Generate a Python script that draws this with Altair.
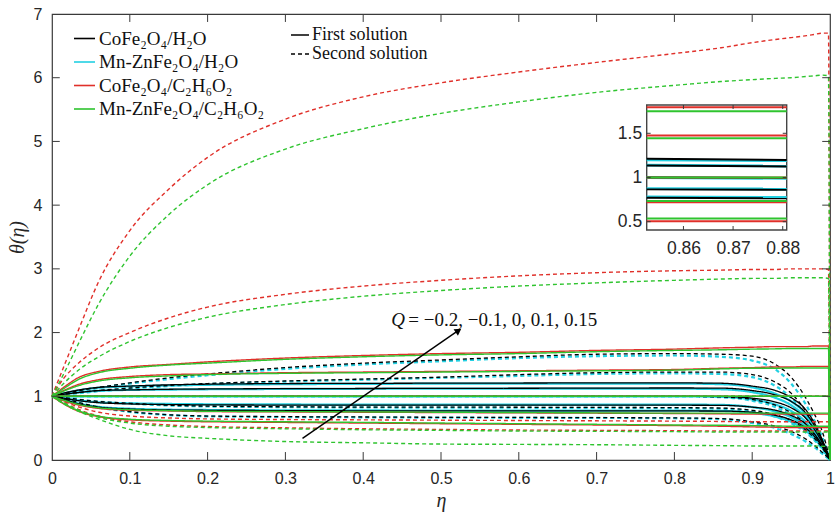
import altair as alt
import pandas as pd

# ---------------- data ----------------
ETA = [0, 0.015, 0.035, 0.06, 0.1, 0.15, 0.2, 0.3, 0.4, 0.5, 0.6, 0.7, 0.8, 0.86,
       0.9, 0.93, 0.95, 0.97, 0.98, 0.99, 0.998, 1.0]
Q_VALUES = [-0.2, -0.1, 0, 0.1, 0.15]
FLUIDS = ["CoFe₂O₄/H₂O", "Mn-ZnFe₂O₄/H₂O", "CoFe₂O₄/C₂H₆O₂", "Mn-ZnFe₂O₄/C₂H₆O₂"]
SOLUTIONS = ["First solution", "Second solution"]

# CoFe2O4/H2O, first solution (rows: Q = -0.2, -0.1, 0, 0.1, 0.15)
BLACK_FIRST = [
    [1, 0.95, 0.88, 0.83, 0.8, 0.785, 0.78, 0.775, 0.772, 0.77, 0.77, 0.77, 0.77, 0.768, 0.75, 0.7, 0.63, 0.49, 0.37, 0.21, 0.05, 0],
    [1, 0.97, 0.93, 0.9, 0.88, 0.87, 0.865, 0.862, 0.86, 0.86, 0.86, 0.86, 0.86, 0.858, 0.83, 0.78, 0.7, 0.55, 0.41, 0.23, 0.05, 0],
    [1, 1, 1, 1, 1, 1, 1, 1, 1, 1, 1, 1, 1, 0.998, 0.97, 0.91, 0.82, 0.64, 0.48, 0.27, 0.06, 0],
    [1, 1.03, 1.06, 1.09, 1.1, 1.11, 1.115, 1.12, 1.122, 1.124, 1.126, 1.128, 1.13, 1.128, 1.09, 1.02, 0.92, 0.72, 0.54, 0.3, 0.07, 0],
    [1, 1.05, 1.1, 1.14, 1.16, 1.18, 1.19, 1.2, 1.203, 1.206, 1.208, 1.21, 1.21, 1.205, 1.16, 1.09, 0.98, 0.77, 0.58, 0.32, 0.07, 0],
]
# Mn-ZnFe2O4/H2O, first solution
CYAN_FIRST = [
    [1, 0.95, 0.885, 0.835, 0.805, 0.79, 0.785, 0.78, 0.778, 0.776, 0.775, 0.775, 0.775, 0.77, 0.74, 0.68, 0.6, 0.45, 0.33, 0.19, 0.04, 0],
    [1, 0.97, 0.935, 0.905, 0.89, 0.88, 0.875, 0.872, 0.87, 0.87, 0.87, 0.87, 0.87, 0.865, 0.83, 0.76, 0.67, 0.51, 0.38, 0.21, 0.04, 0],
    [1, 1, 1, 1, 1, 1, 1, 1, 1, 1, 1, 1, 1, 0.99, 0.95, 0.87, 0.77, 0.58, 0.43, 0.24, 0.05, 0],
    [1, 1.03, 1.06, 1.085, 1.1, 1.105, 1.11, 1.115, 1.118, 1.12, 1.12, 1.12, 1.12, 1.11, 1.065, 0.975, 0.86, 0.65, 0.48, 0.27, 0.06, 0],
    [1, 1.045, 1.095, 1.135, 1.155, 1.17, 1.18, 1.19, 1.195, 1.198, 1.2, 1.2, 1.2, 1.19, 1.14, 1.04, 0.92, 0.7, 0.51, 0.29, 0.06, 0],
]
# CoFe2O4/C2H6O2, first solution
RED_FIRST = [
    [1, 0.88, 0.76, 0.68, 0.63, 0.61, 0.6, 0.59, 0.58, 0.57, 0.56, 0.55, 0.54, 0.53, 0.52, 0.515, 0.51, 0.51, 0.51, 0.51, 0.51, 0],
    [1, 0.93, 0.86, 0.81, 0.78, 0.77, 0.76, 0.755, 0.75, 0.745, 0.74, 0.735, 0.73, 0.725, 0.72, 0.72, 0.72, 0.72, 0.72, 0.72, 0.72, 0],
    [1, 1, 1, 1, 1, 1, 1, 1, 1, 1, 1, 1, 1, 1, 1, 1, 1, 1, 1, 1, 1, 0],
    [1, 1.09, 1.19, 1.26, 1.31, 1.34, 1.35, 1.37, 1.38, 1.39, 1.4, 1.41, 1.42, 1.44, 1.45, 1.46, 1.46, 1.47, 1.47, 1.47, 1.47, 0],
    [1, 1.14, 1.3, 1.39, 1.46, 1.5, 1.54, 1.6, 1.64, 1.67, 1.69, 1.72, 1.74, 1.76, 1.77, 1.78, 1.78, 1.78, 1.79, 1.79, 1.79, 0],
]
# Mn-ZnFe2O4/C2H6O2, first solution
GREEN_FIRST = [
    [1, 0.89, 0.77, 0.69, 0.64, 0.62, 0.61, 0.6, 0.59, 0.58, 0.57, 0.56, 0.55, 0.545, 0.54, 0.535, 0.53, 0.53, 0.53, 0.53, 0.53, 0],
    [1, 0.94, 0.87, 0.82, 0.79, 0.775, 0.765, 0.76, 0.755, 0.75, 0.745, 0.74, 0.735, 0.735, 0.735, 0.735, 0.735, 0.735, 0.735, 0.735, 0.735, 0],
    [1, 1, 1, 1, 1, 1, 1, 1, 1, 1, 1, 1, 1, 1, 1, 1, 1, 1, 1, 1, 1, 0],
    [1, 1.08, 1.17, 1.24, 1.29, 1.32, 1.34, 1.36, 1.37, 1.38, 1.39, 1.4, 1.41, 1.43, 1.44, 1.44, 1.445, 1.445, 1.445, 1.445, 1.445, 0],
    [1, 1.12, 1.27, 1.37, 1.44, 1.49, 1.52, 1.58, 1.62, 1.65, 1.67, 1.7, 1.72, 1.73, 1.74, 1.745, 1.75, 1.75, 1.75, 1.75, 1.75, 0],
]
# second solutions
BLACK_SECOND = [
    [1, 0.96, 0.9, 0.83, 0.76, 0.71, 0.69, 0.68, 0.675, 0.67, 0.668, 0.665, 0.66, 0.65, 0.6, 0.53, 0.45, 0.32, 0.23, 0.12, 0.03, 0],
    [1, 0.98, 0.95, 0.92, 0.89, 0.86, 0.845, 0.835, 0.83, 0.83, 0.828, 0.825, 0.822, 0.815, 0.78, 0.71, 0.62, 0.46, 0.34, 0.19, 0.04, 0],
    [1, 1, 1, 1, 1, 1, 1, 1, 1, 1, 1, 1, 1, 0.99, 0.95, 0.86, 0.74, 0.55, 0.4, 0.22, 0.05, 0],
    [1, 1.03, 1.06, 1.09, 1.13, 1.17, 1.2, 1.24, 1.27, 1.3, 1.34, 1.37, 1.38, 1.38, 1.34, 1.22, 1.05, 0.75, 0.55, 0.3, 0.06, 0],
    [1, 1.04, 1.09, 1.14, 1.21, 1.29, 1.35, 1.45, 1.52, 1.57, 1.62, 1.66, 1.67, 1.66, 1.63, 1.5, 1.3, 0.95, 0.72, 0.45, 0.1, 0],
]
CYAN_SECOND = [
    [1, 0.96, 0.895, 0.825, 0.755, 0.705, 0.685, 0.675, 0.67, 0.665, 0.662, 0.66, 0.655, 0.64, 0.58, 0.5, 0.41, 0.28, 0.2, 0.1, 0.02, 0],
    [1, 0.98, 0.945, 0.915, 0.885, 0.855, 0.84, 0.83, 0.825, 0.822, 0.82, 0.818, 0.815, 0.805, 0.76, 0.68, 0.58, 0.42, 0.31, 0.17, 0.03, 0],
    [1, 1, 1, 1, 1, 1, 1, 1, 1, 1, 1, 1, 1, 0.985, 0.93, 0.83, 0.7, 0.5, 0.36, 0.19, 0.04, 0],
    [1, 1.03, 1.05, 1.08, 1.12, 1.16, 1.19, 1.23, 1.26, 1.29, 1.32, 1.35, 1.36, 1.35, 1.3, 1.16, 0.98, 0.68, 0.49, 0.27, 0.05, 0],
    [1, 1.04, 1.08, 1.13, 1.2, 1.27, 1.33, 1.43, 1.5, 1.55, 1.6, 1.63, 1.64, 1.62, 1.56, 1.42, 1.2, 0.85, 0.62, 0.36, 0.08, 0],
]
RED_SECOND = [
    [1, 0.9, 0.79, 0.69, 0.6, 0.55, 0.525, 0.505, 0.49, 0.48, 0.47, 0.465, 0.46, 0.455, 0.455, 0.455, 0.455, 0.455, 0.455, 0.455, 0.455, 0],
    [1, 0.92, 0.83, 0.75, 0.69, 0.66, 0.645, 0.635, 0.63, 0.625, 0.62, 0.615, 0.61, 0.605, 0.6, 0.6, 0.6, 0.6, 0.6, 0.6, 0.6, 0],
    [1, 1, 1, 1, 1, 1, 1, 1, 1, 1, 1, 1, 1, 1, 1, 1, 1, 1, 1, 1, 1, 0],
    [1, 1.28, 1.53, 1.76, 2.0, 2.23, 2.4, 2.6, 2.73, 2.82, 2.89, 2.94, 2.97, 2.98, 2.99, 2.99, 3.0, 3.0, 3.0, 3.0, 2.99, 0],
    [1, 1.46, 2.07, 2.8, 3.6, 4.25, 4.75, 5.35, 5.7, 5.92, 6.09, 6.24, 6.38, 6.47, 6.55, 6.6, 6.63, 6.66, 6.68, 6.7, 6.7, 0],
]
GREEN_SECOND = [
    [1, 0.88, 0.76, 0.64, 0.48, 0.38, 0.34, 0.29, 0.27, 0.25, 0.245, 0.24, 0.23, 0.225, 0.22, 0.22, 0.22, 0.22, 0.22, 0.215, 0.21, 0],
    [1, 0.9, 0.78, 0.67, 0.58, 0.53, 0.51, 0.49, 0.475, 0.465, 0.455, 0.45, 0.445, 0.44, 0.44, 0.44, 0.44, 0.44, 0.44, 0.44, 0.44, 0],
    [1, 1, 1, 1, 1, 1, 1, 1, 1, 1, 1, 1, 1, 1, 1, 1, 1, 1, 1, 1, 1, 0],
    [1, 1.2, 1.42, 1.62, 1.86, 2.08, 2.24, 2.44, 2.57, 2.66, 2.73, 2.78, 2.82, 2.84, 2.85, 2.85, 2.86, 2.86, 2.86, 2.86, 2.85, 0],
    [1, 1.35, 1.85, 2.45, 3.2, 3.85, 4.32, 4.88, 5.2, 5.44, 5.62, 5.77, 5.88, 5.94, 5.97, 5.99, 6.0, 6.02, 6.03, 6.04, 6.03, 0],
]

# inset (zoom of the first solutions)
INSET_ETA = [0.8526, 0.8808]
INSET_BLACK = [[0.77, 0.765], [0.865, 0.86], [1.0, 0.995], [1.135, 1.125], [1.212, 1.198]]
INSET_CYAN = [[0.78, 0.775], [0.875, 0.87], [1.0, 0.99], [1.14, 1.13], [1.2, 1.19]]
INSET_RED = [[0.505, 0.505], [0.72, 0.72], [1.0, 1.0], [1.475, 1.475], [1.795, 1.795]]
INSET_GREEN = [[0.535, 0.535], [0.735, 0.735], [1.0, 1.0], [1.445, 1.445], [1.75, 1.75]]

XTICKS = [0, 0.1, 0.2, 0.3, 0.4, 0.5, 0.6, 0.7, 0.8, 0.9, 1]
YTICKS = [0, 1, 2, 3, 4, 5, 6, 7]
INSET_XTICKS = [0.86, 0.87, 0.88]
INSET_YTICKS = [0.5, 1, 1.5]

# ---------------- tables ----------------
rows = []
tables = [
    (0, 0, BLACK_FIRST), (1, 0, CYAN_FIRST), (2, 0, RED_FIRST), (3, 0, GREEN_FIRST),
    (0, 1, BLACK_SECOND), (1, 1, CYAN_SECOND), (2, 1, RED_SECOND), (3, 1, GREEN_SECOND),
]
for fi, si, table in tables:
    for q, vals in zip(Q_VALUES, table):
        for e, t in zip(ETA, vals):
            rows.append({"eta": e, "theta": t, "fi": fi, "fluid": FLUIDS[fi],
                         "sol": SOLUTIONS[si], "key": f"{fi}-{si}-{q}"})
df = pd.DataFrame(rows)

irows = []
for fi, table in enumerate([INSET_BLACK, INSET_CYAN, INSET_RED, INSET_GREEN]):
    for q, vals in zip(Q_VALUES, table):
        for e, t in zip(INSET_ETA, vals):
            irows.append({"eta": e, "theta": t, "fi": fi, "key": f"{fi}-{q}"})
idf = pd.DataFrame(irows)

COLORS = ["#000000", "#22d0e2", "#e0302a", "#2fc42f"]
WIDTHS = [1.3, 2.2, 1.4, 1.4]
DRAW_ORDER = [1, 0, 2, 3]

# ---------------- scales / axes ----------------
xs = alt.Scale(domain=[0, 1], nice=False, zero=False)
ys = alt.Scale(domain=[0, 7], nice=False, zero=False)
color_scale = alt.Scale(domain=FLUIDS, range=COLORS)
dash_scale = alt.Scale(domain=SOLUTIONS, range=[[1, 0], [4, 3]])

LABEL_FONT = "Liberation Sans"
SERIF = "Liberation Serif"
AX_COLOR = "#262626"

x_axis = alt.Axis(values=XTICKS, format="~g", title="η", orient="bottom", grid=False,
                  domain=False, ticks=False, labels=True,
                  labelFont=LABEL_FONT, labelFontSize=16, labelColor=AX_COLOR, labelPadding=10,
                  labelFlush=False, titleFont=SERIF, titleFontStyle="italic", titleFontSize=20,
                  titleFontWeight="normal", titleColor=AX_COLOR, titlePadding=4)
y_axis = alt.Axis(values=YTICKS, format="d", title="θ(η)", orient="left", grid=False,
                  domain=False, ticks=False, labels=True,
                  labelFont=LABEL_FONT, labelFontSize=16, labelColor=AX_COLOR, labelPadding=10,
                  labelFlush=False, titleFont=SERIF, titleFontStyle="italic", titleFontSize=20,
                  titleFontWeight="normal", titleColor=AX_COLOR, titlePadding=6)

color_legend = alt.Legend(title=None, orient="none", legendX=21, legendY=13, symbolType="stroke",
                          symbolSize=441, symbolStrokeWidth=1.6, labelFont=SERIF, labelFontSize=19,
                          labelColor="#111111", rowPadding=1.5, labelOffset=3, padding=0,
                          labelLimit=400)
dash_legend = alt.Legend(title=None, orient="none", legendX=238, legendY=11, symbolType="stroke",
                         symbolSize=324, symbolStrokeWidth=1.4, symbolStrokeColor="#000000",
                         labelFont=SERIF, labelFontSize=18, labelColor="#111111", rowPadding=0,
                         labelOffset=2, padding=0, labelLimit=400)

# ---------------- main curves ----------------
def fluid_layer(fi, with_axes):
    return alt.Chart(df).mark_line(strokeWidth=WIDTHS[fi], interpolate="monotone").encode(
        x=alt.X("eta:Q", scale=xs, axis=x_axis if with_axes else None),
        y=alt.Y("theta:Q", scale=ys, axis=y_axis if with_axes else None),
        color=alt.Color("fluid:N", scale=color_scale, legend=color_legend),
        strokeDash=alt.StrokeDash("sol:N", scale=dash_scale, legend=dash_legend),
        detail="key:N",
    ).transform_filter(alt.datum.fi == fi)

curve_layers = [fluid_layer(fi, i == 0) for i, fi in enumerate(DRAW_ORDER)]

# inward ticks on all four sides
TICK_COLOR = "#3a3a3a"
xt = pd.DataFrame({"t": XTICKS[1:-1]})
yt = pd.DataFrame({"t": YTICKS[1:-1]})
tick_bottom = alt.Chart(xt).mark_rule(color=TICK_COLOR, strokeWidth=1).encode(
    x=alt.X("t:Q", scale=xs, axis=None), y=alt.Y(datum=0, scale=ys, axis=None), y2=alt.Y2(datum=0.125))
tick_top = alt.Chart(xt).mark_rule(color=TICK_COLOR, strokeWidth=1).encode(
    x=alt.X("t:Q", scale=xs, axis=None), y=alt.Y(datum=7, scale=ys, axis=None), y2=alt.Y2(datum=6.875))
tick_left = alt.Chart(yt).mark_rule(color=TICK_COLOR, strokeWidth=1).encode(
    y=alt.Y("t:Q", scale=ys, axis=None), x=alt.X(datum=0, scale=xs, axis=None), x2=alt.X2(datum=0.01))
tick_right = alt.Chart(yt).mark_rule(color=TICK_COLOR, strokeWidth=1).encode(
    y=alt.Y("t:Q", scale=ys, axis=None), x=alt.X(datum=1, scale=xs, axis=None), x2=alt.X2(datum=0.99))

one = pd.DataFrame({"a": [0]})
arrow = alt.Chart(one).mark_rule(color="#000000", strokeWidth=1.4).encode(
    x=alt.X(datum=0.322, scale=xs, axis=None), y=alt.Y(datum=0.34, scale=ys, axis=None),
    x2=alt.X2(datum=0.522), y2=alt.Y2(datum=2.03))
arrow_head = alt.Chart(one).mark_point(shape="triangle-up", filled=True, size=60, angle=55.5,
                                       color="#000000", opacity=1).encode(
    x=alt.X(datum=0.5225, scale=xs, axis=None), y=alt.Y(datum=2.03, scale=ys, axis=None))
q_text = alt.Chart(one).mark_text(text="Q", font=SERIF, fontStyle="italic", fontSize=19,
                                  align="center", baseline="middle", color="#111111").encode(
    x=alt.X(datum=0.445, scale=xs, axis=None), y=alt.Y(datum=2.2, scale=ys, axis=None))
q_vals = alt.Chart(one).mark_text(text="= −0.2, −0.1, 0, 0.1, 0.15", font=SERIF, fontSize=19,
                                  align="left", baseline="middle", color="#111111").encode(
    x=alt.X(datum=0.458, scale=xs, axis=None), y=alt.Y(datum=2.2, scale=ys, axis=None))

# ---------------- inset ----------------
IX_DOMAIN = [0.8526, 0.8808]
IY_DOMAIN = [0.406, 1.82]
ixs = alt.Scale(domain=IX_DOMAIN, range=[594.7, 734.7], nice=False, zero=False)
iys = alt.Scale(domain=IY_DOMAIN, range=[216, 91], nice=False, zero=False)

ix_axis = alt.Axis(values=INSET_XTICKS, format=".2f", orient="bottom", offset=-230, title=None,
                   grid=False, domain=False, ticks=False, labels=True, labelFont=LABEL_FONT,
                   labelFontSize=17.5, labelColor=AX_COLOR, labelPadding=9, labelFlush=False)
iy_axis = alt.Axis(values=INSET_YTICKS, format="~g", orient="left", offset=-594.7, title=None,
                   grid=False, domain=False, ticks=False, labels=True, labelFont=LABEL_FONT,
                   labelFontSize=17.5, labelColor=AX_COLOR, labelPadding=5, labelFlush=False)

inset_frame = alt.Chart(one).mark_rect(fill="white", stroke="#444444", strokeWidth=1.4).encode(
    x=alt.X(datum=IX_DOMAIN[0], scale=ixs, axis=None), x2=alt.X2(datum=IX_DOMAIN[1]),
    y=alt.Y(datum=IY_DOMAIN[0], scale=iys, axis=None), y2=alt.Y2(datum=IY_DOMAIN[1]))


def inset_layer(fi, with_axes):
    return alt.Chart(idf).mark_line(color=COLORS[fi], strokeWidth=WIDTHS[fi] + 0.6).encode(
        x=alt.X("eta:Q", scale=ixs, axis=ix_axis if with_axes else None),
        y=alt.Y("theta:Q", scale=iys, axis=iy_axis if with_axes else None),
        detail="key:N",
    ).transform_filter(alt.datum.fi == fi)


inset_lines = [inset_layer(fi, i == 0) for i, fi in enumerate(DRAW_ORDER)]

ixt = pd.DataFrame({"t": INSET_XTICKS})
iyt = pd.DataFrame({"t": INSET_YTICKS})
itick_b = alt.Chart(ixt).mark_rule(color=TICK_COLOR).encode(
    x=alt.X("t:Q", scale=ixs, axis=None), y=alt.Y(datum=IY_DOMAIN[0], scale=iys, axis=None),
    y2=alt.Y2(datum=IY_DOMAIN[0] + 0.045))
itick_t = alt.Chart(ixt).mark_rule(color=TICK_COLOR).encode(
    x=alt.X("t:Q", scale=ixs, axis=None), y=alt.Y(datum=IY_DOMAIN[1], scale=iys, axis=None),
    y2=alt.Y2(datum=IY_DOMAIN[1] - 0.045))
itick_l = alt.Chart(iyt).mark_rule(color=TICK_COLOR).encode(
    y=alt.Y("t:Q", scale=iys, axis=None), x=alt.X(datum=IX_DOMAIN[0], scale=ixs, axis=None),
    x2=alt.X2(datum=IX_DOMAIN[0] + 0.0008))
itick_r = alt.Chart(iyt).mark_rule(color=TICK_COLOR).encode(
    y=alt.Y("t:Q", scale=iys, axis=None), x=alt.X(datum=IX_DOMAIN[1], scale=ixs, axis=None),
    x2=alt.X2(datum=IX_DOMAIN[1] - 0.0008))

layers = (curve_layers + [tick_bottom, tick_top, tick_left, tick_right,
                          arrow, arrow_head, q_text, q_vals, inset_frame]
          + inset_lines + [itick_b, itick_t, itick_l, itick_r])

chart = alt.layer(*layers).resolve_scale(x="independent", y="independent").properties(
    width=778, height=446,
    padding={"left": 52, "top": 14, "right": 5, "bottom": 57},
    autosize=alt.AutoSizeParams(type="none"),
    background="white",
).configure_view(stroke="#3a3a3a", strokeWidth=1.2)

chart.save("out.html", embed_options={"renderer": "svg", "actions": False})
